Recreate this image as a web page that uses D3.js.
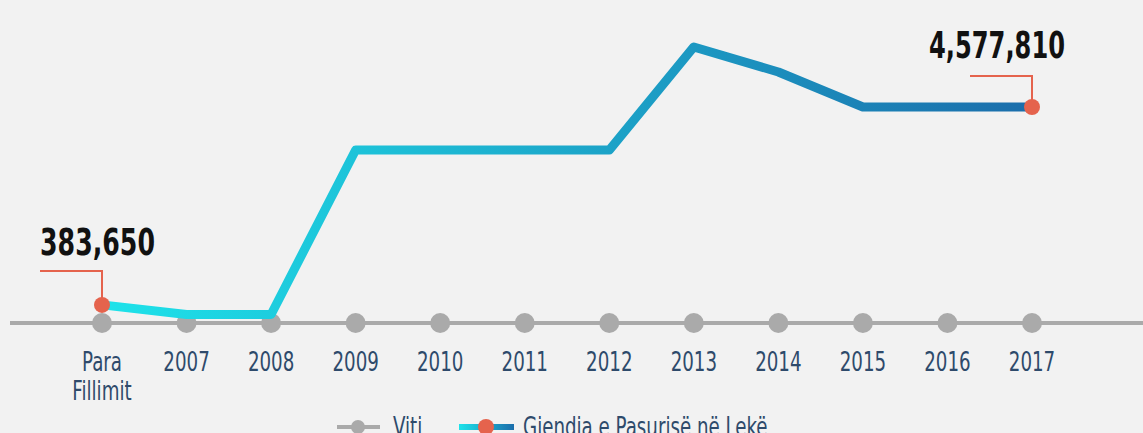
<!DOCTYPE html>
<html>
  <head>
    <script src="https://d3js.org/d3.v7.min.js"></script>
    <style>
      body { margin: 0; background: #f2f2f2; }
      svg { display: block; }
      text { font-family: "DejaVu Sans Condensed", "Liberation Sans Narrow", sans-serif; }
      .tick-label { fill: #2e4a6b; font-size: 26px; }
      .value-label { fill: #111; font-size: 38px; font-weight: bold; }
    </style>
  </head>
  <body>
    <svg id="chart" width="1143" height="433"></svg>
    <script>
      // data
      const years = ["Para Fillimit", "2007", "2008", "2009", "2010", "2011", "2012", "2013", "2014", "2015", "2016", "2017"];
      const wealth = [383650, 180000, 180000, 3666000, 3666000, 3666000, 3666000, 5850000, 5320000, 4577810, 4577810, 4577810];
      const legendLabels = ["Viti", "Gjendja e Pasurisë në Lekë"];

      const svg = d3.select("#chart");
      const squeeze = 0.78; // narrow the font to look condensed

      const x = d3.scalePoint().domain(years).range([102, 1032]);
      const y = d3.scaleLinear().domain([0, 4577810]).range([323, 107]);

      // gradient for the line
      const defs = svg.append("defs");
      const grad = defs.append("linearGradient")
        .attr("id", "lineGrad")
        .attr("gradientUnits", "userSpaceOnUse")
        .attr("x1", x(years[0])).attr("x2", x(years[years.length - 1]))
        .attr("y1", 0).attr("y2", 0);
      grad.append("stop").attr("offset", "0%").attr("stop-color", "#1ee3ea");
      grad.append("stop").attr("offset", "100%").attr("stop-color", "#1b6dab");

      const legGrad = defs.append("linearGradient")
        .attr("id", "legGrad");
      legGrad.append("stop").attr("offset", "0%").attr("stop-color", "#1ee3ea");
      legGrad.append("stop").attr("offset", "100%").attr("stop-color", "#1b6dab");

      // axis line
      svg.append("line")
        .attr("x1", 10).attr("x2", 1143)
        .attr("y1", y(0)).attr("y2", y(0))
        .attr("stroke", "#aaaaaa").attr("stroke-width", 4);

      // year dots
      svg.selectAll(".yearDot")
        .data(years)
        .join("circle")
          .attr("class", "yearDot")
          .attr("cx", d => x(d))
          .attr("cy", y(0))
          .attr("r", 10)
          .attr("fill", "#aaaaaa");

      // tick labels
      svg.selectAll(".tick-label")
        .data(years)
        .join("text")
          .attr("class", "tick-label")
          .attr("transform", d => `translate(${x(d)},371) scale(${squeeze},1)`)
          .attr("text-anchor", "middle")
          .each(function(d) {
            d3.select(this).selectAll("tspan")
              .data(d.split(" "))
              .join("tspan")
                .attr("x", 0)
                .attr("dy", (p, i) => i === 0 ? 0 : 29)
                .text(p => p);
          });

      // wealth line
      const line = d3.line()
        .x((d, i) => x(years[i]))
        .y(d => y(d));

      svg.append("path")
        .datum(wealth)
        .attr("fill", "none")
        .attr("stroke", "url(#lineGrad)")
        .attr("stroke-width", 9)
        .attr("stroke-linejoin", "round")
        .attr("stroke-linecap", "round")
        .attr("d", line);

      // first and last value annotations
      const first = 0, last = wealth.length - 1;
      const notes = [
        { i: first, ly: 271, anchor: "start", tx: 40, ty: 255, w: 115 },
        { i: last, ly: 76, anchor: "end", tx: 1065, ty: 58, w: 136 }
      ];
      notes.forEach(a => {
        const px = x(years[a.i]);
        svg.append("path")
          .attr("d", `M${px - 62},${a.ly}H${px}V${y(wealth[a.i])}`)
          .attr("fill", "none")
          .attr("stroke", "#e5634d")
          .attr("stroke-width", 2);
        svg.append("circle")
          .attr("cx", px).attr("cy", y(wealth[a.i]))
          .attr("r", 8)
          .attr("fill", "#e5634d");
        svg.append("text")
          .attr("class", "value-label")
          .attr("x", a.anchor === "end" ? a.tx - a.w : a.tx)
          .attr("y", a.ty)
          .attr("textLength", a.w)
          .attr("lengthAdjust", "spacingAndGlyphs")
          .text(d3.format(",")(wealth[a.i]));
      });

      // legend (cut off at the bottom like the original)
      const ly = 427;
      svg.append("line").attr("x1", 337).attr("x2", 380).attr("y1", ly).attr("y2", ly)
        .attr("stroke", "#aaaaaa").attr("stroke-width", 4);
      svg.append("circle").attr("cx", 358).attr("cy", ly).attr("r", 7).attr("fill", "#aaaaaa");
      svg.append("text").attr("class", "tick-label")
        .attr("transform", `translate(393,${ly + 9}) scale(${squeeze},1)`)
        .text(legendLabels[0]);

      svg.append("rect").attr("x", 459).attr("y", ly - 3).attr("width", 55).attr("height", 6)
        .attr("fill", "url(#legGrad)");
      svg.append("circle").attr("cx", 486).attr("cy", ly).attr("r", 8).attr("fill", "#e5634d");
      svg.append("text").attr("class", "tick-label")
        .attr("transform", `translate(523,${ly + 9}) scale(${squeeze},1)`)
        .text(legendLabels[1]);
    </script>
  </body>
</html>
